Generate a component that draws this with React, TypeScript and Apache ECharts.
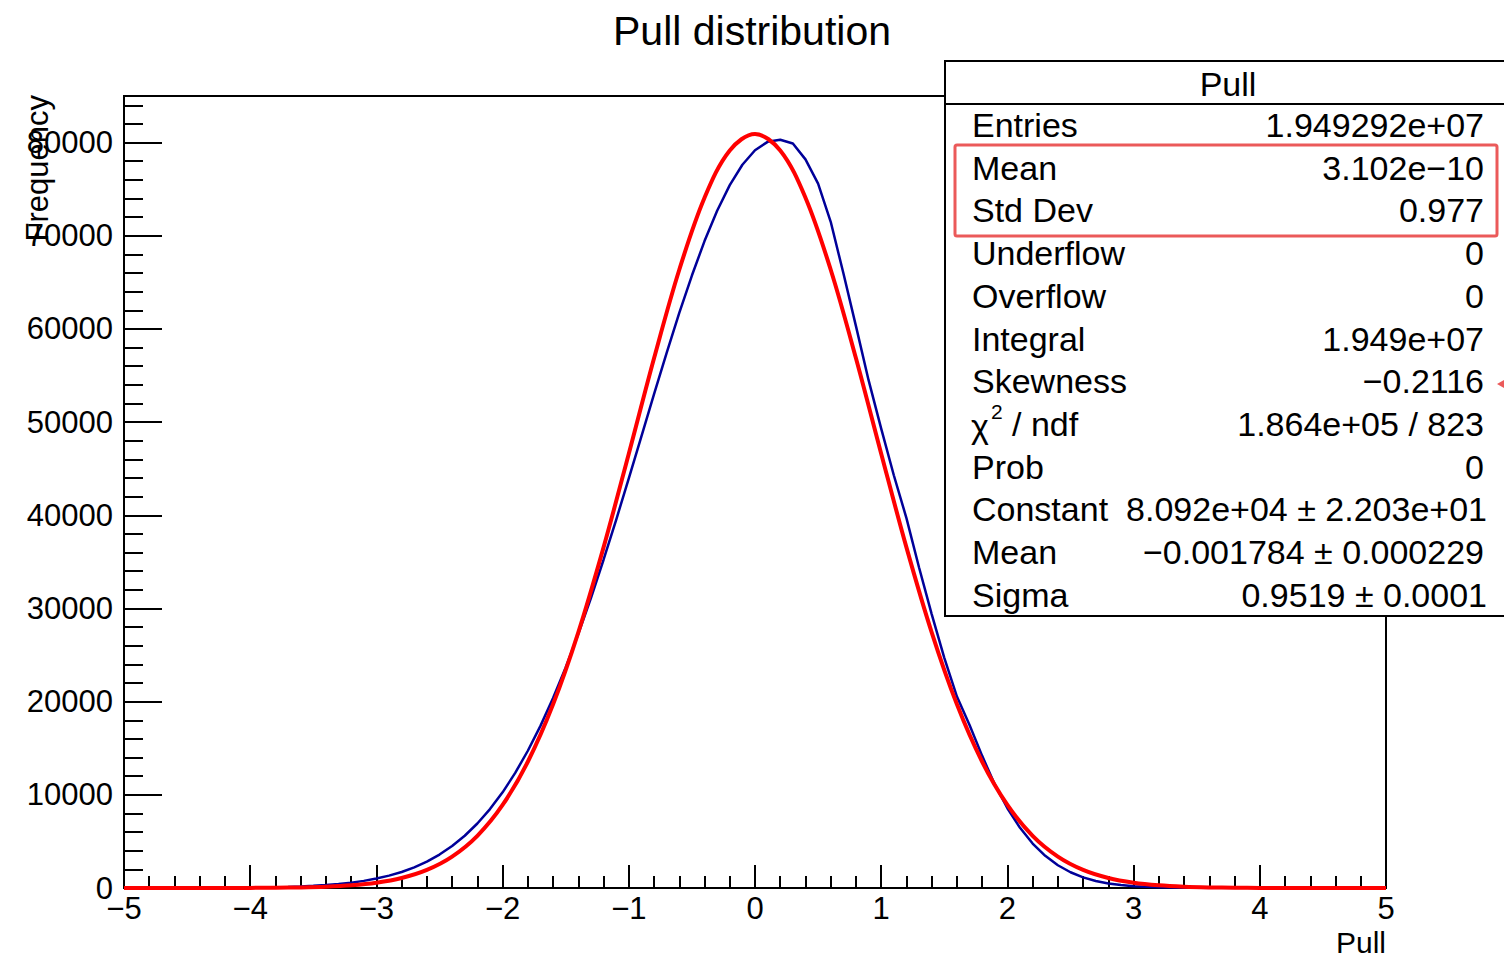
import React, { useEffect, useRef } from 'react';
import * as echarts from 'echarts';

const FONT = '"Liberation Sans", Arial, Helvetica, sans-serif';

// Histogram (blue), bin centres from -5 to 5 in steps of 0.1
const HIST_MIN = -5;
const HIST_STEP = 0.1;
const histCounts = [
  1, 1, 2, 3, 4, 6, 9, 14, 20, 30,
  42, 61, 86, 120, 166, 229, 314, 426, 573, 765,
  1010, 1325, 1720, 2220, 2830, 3590, 4510, 5610, 6920, 8470,
  10270, 12350, 14730, 17400, 20390, 23680, 27270, 31120, 35230, 39520,
  43960, 48480, 53000, 57440, 61720, 65730, 69430, 72680, 75430, 77620,
  79180, 80080, 80300, 79900, 78200, 75600, 71500, 66000, 60300, 54500,
  49300, 44300, 39700, 34400, 29400, 24700, 20550, 17500, 14180, 11120,
  8560, 6460, 4770, 3450, 2440, 1690, 1145, 755, 487, 315,
  200, 125, 78, 48, 29, 17, 10, 6, 3, 2,
  1, 0, 0, 0, 0, 0, 0, 0, 0, 0,
  0,
];

// Gaussian fit curve (red), sampled from -5 to 5 in steps of 0.2
const FIT_MIN = -5;
const FIT_STEP = 0.2;
const fitValues = [
  0, 0, 0, 2, 5, 12, 28, 64, 138, 285,
  565, 1070, 1940, 3370, 5600, 8910, 13550, 19710, 27440, 36560,
  46610, 56850, 66350, 74080, 79150, 80920, 79150, 74080, 66350, 56850,
  46610, 36560, 27440, 19710, 13550, 8910, 5600, 3370, 1940, 1070,
  565, 285, 138, 64, 28, 12, 5, 2, 0, 0,
  0,
];

const xTicks = [-5, -4, -3, -2, -1, 0, 1, 2, 3, 4, 5];
const yTicks = [0, 10000, 20000, 30000, 40000, 50000, 60000, 70000, 80000];

const statLabels = [
  'Entries', 'Mean', 'Std Dev', 'Underflow', 'Overflow', 'Integral',
  'Skewness', '', 'Prob', 'Constant', 'Mean', 'Sigma',
];
const statValues = [
  '1.949292e+07', '3.102e\u221210', '0.977', '0', '0', '1.949e+07',
  '\u22120.2116', '1.864e+05 / 823', '0', '8.092e+04 \u00b1 2.203e+01',
  '\u22120.001784 \u00b1 0.000229', '0.9519 \u00b1 0.0001',
];

const fmtMinus = (v: number) => (v < 0 ? '\u2212' + Math.abs(v) : String(v));

export default function App() {
  const ref = useRef<HTMLDivElement>(null);

  useEffect(() => {
    if (!ref.current) return;
    const chart = echarts.init(ref.current, null, { renderer: 'svg' });

    const histData = histCounts.map((v, i) => [
      Math.round((HIST_MIN + i * HIST_STEP) * 100) / 100,
      v,
    ]);
    const fitData = fitValues.map((v, i) => [
      Math.round((FIT_MIN + i * FIT_STEP) * 100) / 100,
      v,
    ]);

    const textStyleBase = { fontFamily: FONT, fill: '#000' };
    const ROW0 = 125;
    const ROW_H = 42.7;
    const statEls: any[] = [];
    statLabels.forEach((lab, i) => {
      const y = ROW0 + i * ROW_H;
      if (lab) {
        statEls.push({
          type: 'text', x: 972, y, z: 102,
          style: { ...textStyleBase, text: lab, fontSize: 34, align: 'left', verticalAlign: 'middle' },
        });
      }
      const wide = i === 9 || i === 11;
      statEls.push({
        type: 'text', x: wide ? 1487 : 1484, y, z: 102,
        style: { ...textStyleBase, text: statValues[i], fontSize: 34, align: 'right', verticalAlign: 'middle' },
      });
    });
    const chiY = ROW0 + 7 * ROW_H;
    statEls.push(
      { type: 'text', x: 971, y: chiY + 2, z: 102, style: { ...textStyleBase, text: '\u03c7', fontSize: 34, align: 'left', verticalAlign: 'middle' } },
      { type: 'text', x: 991, y: chiY - 12, z: 102, style: { ...textStyleBase, text: '2', fontSize: 21, align: 'left', verticalAlign: 'middle' } },
      { type: 'text', x: 1012, y: chiY, z: 102, style: { ...textStyleBase, text: '/ ndf', fontSize: 34, align: 'left', verticalAlign: 'middle' } },
    );

    const option: any = {
      animation: false,
      backgroundColor: '#ffffff',
      title: {
        text: 'Pull distribution',
        left: 'center',
        top: 5,
        textStyle: { fontSize: 41, fontWeight: 'normal', fontFamily: FONT, color: '#000' },
      },
      grid: {
        left: 124, right: 118, top: 96, bottom: 70,
        show: true, borderColor: '#000', borderWidth: 2, backgroundColor: 'transparent',
      },
      xAxis: {
        type: 'value',
        min: xTicks[0],
        max: xTicks[xTicks.length - 1],
        interval: 1,
        axisLine: { onZero: false, lineStyle: { color: '#000', width: 2 } },
        axisTick: { inside: true, length: 23, lineStyle: { color: '#000', width: 2 } },
        minorTick: { show: true, splitNumber: 5, length: 12, lineStyle: { color: '#000', width: 2 } },
        splitLine: { show: false },
        axisLabel: { fontSize: 31, fontFamily: FONT, color: '#000', margin: 5, formatter: fmtMinus },
      },
      yAxis: [
        {
          type: 'value',
          min: yTicks[0],
          max: 85000,
          interval: 10000,
          position: 'left',
          axisLine: { show: true, onZero: false, lineStyle: { color: '#000', width: 2 } },
          axisTick: { show: true, inside: true, length: 38, lineStyle: { color: '#000', width: 2 } },
          splitLine: { show: false },
          axisLabel: {
            fontSize: 31, fontFamily: FONT, color: '#000', margin: 11, showMaxLabel: false,
            formatter: (v: number) => (yTicks.indexOf(v) >= 0 ? String(v) : ''),
          },
        },
        {
          type: 'value',
          min: 0,
          max: 85000,
          interval: 2000,
          position: 'left',
          axisLine: { show: false, onZero: false },
          axisTick: { show: true, inside: true, length: 19, lineStyle: { color: '#000', width: 2 } },
          splitLine: { show: false },
          axisLabel: { show: false },
        },
      ],
      series: [
        {
          type: 'line',
          data: histData,
          yAxisIndex: 0,
          symbol: 'none',
          showSymbol: false,
          lineStyle: { color: '#000099', width: 2.5 },
          z: 3,
        },
        {
          type: 'line',
          data: fitData,
          yAxisIndex: 0,
          symbol: 'none',
          showSymbol: false,
          smooth: 0.35,
          lineStyle: { color: '#ff0000', width: 4 },
          z: 4,
        },
      ],
      graphic: [
        {
          type: 'text', x: 37, y: 95, rotation: Math.PI / 2, z: 50,
          style: { ...textStyleBase, text: 'Frequency', fontSize: 31, align: 'right', verticalAlign: 'middle' },
        },
        {
          type: 'text', x: 1386, y: 942, z: 50,
          style: { ...textStyleBase, text: 'Pull', fontSize: 30, align: 'right', verticalAlign: 'middle' },
        },
        {
          type: 'rect', z: 100,
          shape: { x: 945, y: 61, width: 580, height: 555 },
          style: { fill: '#fff', stroke: '#000', lineWidth: 2 },
        },
        {
          type: 'line', z: 101,
          shape: { x1: 945, y1: 104, x2: 1504, y2: 104 },
          style: { stroke: '#000', lineWidth: 2 },
        },
        {
          type: 'text', x: 1228, y: 84, z: 102,
          style: { ...textStyleBase, text: 'Pull', fontSize: 34, align: 'center', verticalAlign: 'middle' },
        },
        ...statEls,
        {
          type: 'rect', z: 103,
          shape: { x: 955, y: 145, width: 542, height: 91, r: 2 },
          style: { fill: 'none', stroke: '#eb5a5a', lineWidth: 3 },
        },
        {
          type: 'polygon', z: 103,
          shape: { points: [[1497, 384], [1504, 380], [1504, 388]] },
          style: { fill: '#eb5a5a' },
        },
      ],
    };

    chart.setOption(option);
    return () => chart.dispose();
  }, []);

  return (
    <div
      ref={ref}
      style={{ position: 'absolute', left: 0, top: 0, width: 1504, height: 958, background: '#fff' }}
    />
  );
}
